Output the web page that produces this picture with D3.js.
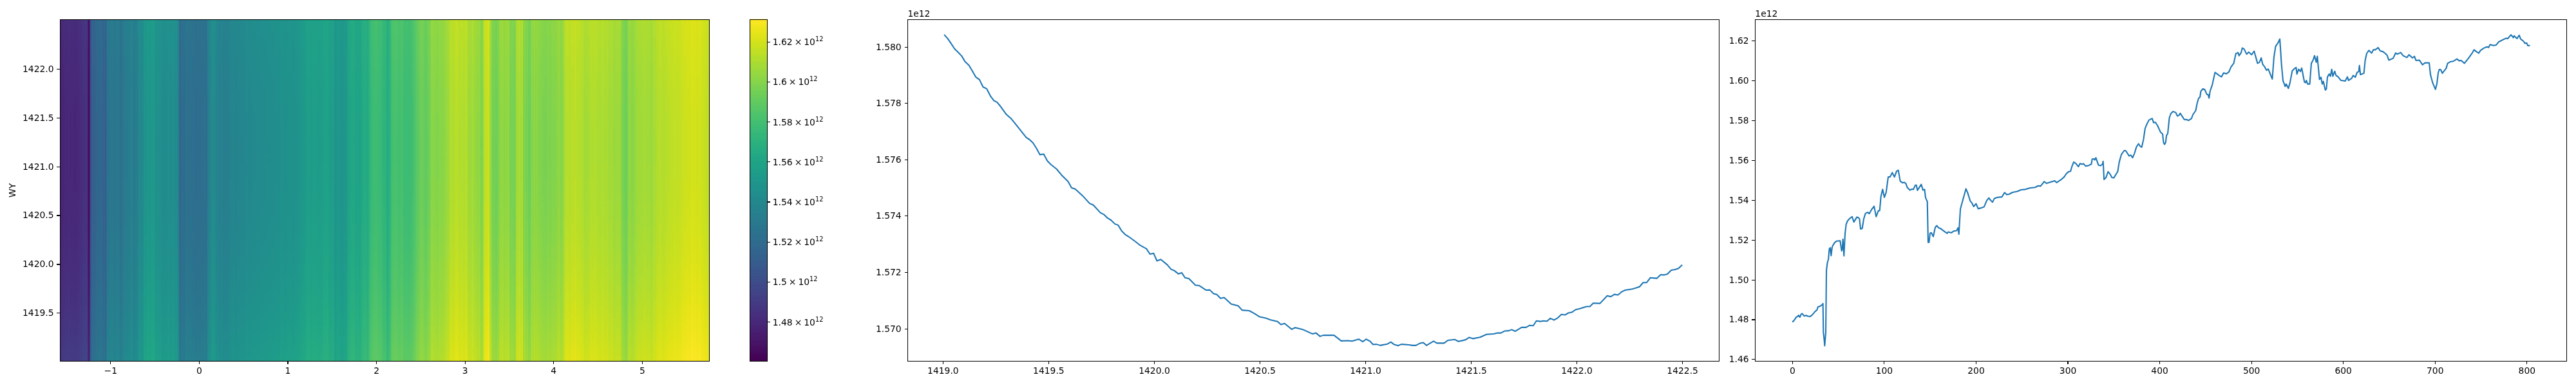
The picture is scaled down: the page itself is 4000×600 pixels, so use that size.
<!DOCTYPE html>
<html><head><meta charset="utf-8">
<style>html,body{margin:0;padding:0;background:#fff}#wrap{position:relative;width:4000px;height:600px}canvas,svg{position:absolute;left:0;top:0}
text{font-family:"DejaVu Sans";fill:#000}</style>
<script src="https://cdnjs.cloudflare.com/ajax/libs/d3/7.8.5/d3.min.js"></script></head>
<body><div id="wrap"></div>
<script>
// Row profile (mean over columns) in units of 1e12
const rowYears=[1419.007,1419.0245,1419.039,1419.056,1419.072,1419.09,1419.105,1419.124,1419.14,1419.157,1419.174,1419.191,1419.208,1419.226,1419.242,1419.257,1419.274,1419.301,1419.325,1419.351,1419.395,1419.41,1419.427,1419.444,1419.46,1419.478,1419.495,1419.512,1419.539,1419.562,1419.593,1419.61,1419.627,1419.661,1419.695,1419.713,1419.746,1419.764,1419.78,1419.796,1419.815,1419.83,1419.847,1419.863,1419.882,1419.913,1419.931,1419.964,1419.981,1419.998,1420.014,1420.032,1420.063,1420.081,1420.097,1420.115,1420.131,1420.147,1420.165,1420.196,1420.215,1420.247,1420.264,1420.281,1420.298,1420.315,1420.332,1420.365,1420.399,1420.417,1420.451,1420.478,1420.498,1420.529,1420.549,1420.584,1420.601,1420.618,1420.652,1420.668,1420.702,1420.75,1420.767,1420.786,1420.801,1420.852,1420.886,1420.92,1420.937,1420.969,1420.988,1421.004,1421.022,1421.037,1421.053,1421.071,1421.105,1421.121,1421.137,1421.155,1421.171,1421.206,1421.223,1421.24,1421.257,1421.274,1421.29,1421.323,1421.339,1421.373,1421.391,1421.423,1421.441,1421.475,1421.491,1421.509,1421.543,1421.574,1421.608,1421.625,1421.642,1421.659,1421.679,1421.693,1421.71,1421.74,1421.761,1421.777,1421.795,1421.81,1421.829,1421.842,1421.86,1421.876,1421.894,1421.91,1421.928,1421.945,1421.961,1421.979,1421.996,1422.013,1422.047,1422.063,1422.079,1422.111,1422.145,1422.162,1422.179,1422.196,1422.213,1422.23,1422.264,1422.298,1422.315,1422.332,1422.349,1422.38,1422.398,1422.414,1422.43,1422.448,1422.466,1422.482,1422.5];
const rowValues=[1.58043,1.58028,1.58012,1.57993,1.57981,1.57967,1.57948,1.57934,1.57914,1.57892,1.57883,1.57857,1.57851,1.57825,1.57809,1.57803,1.57788,1.5776,1.57744,1.5772,1.57678,1.57671,1.57659,1.57639,1.57617,1.57619,1.57595,1.57582,1.57566,1.57545,1.57522,1.57499,1.57495,1.57472,1.57444,1.57438,1.57411,1.57404,1.57392,1.57385,1.57371,1.57367,1.57346,1.57334,1.57325,1.57308,1.57297,1.57283,1.57264,1.57267,1.5724,1.57245,1.57226,1.5721,1.57205,1.57194,1.57198,1.5718,1.57177,1.57154,1.57152,1.57136,1.57137,1.57124,1.5712,1.57107,1.5711,1.57087,1.5708,1.57065,1.57063,1.57052,1.57042,1.57037,1.57031,1.57025,1.57014,1.57018,1.56997,1.57003,1.56997,1.56981,1.56984,1.56972,1.56976,1.56976,1.56956,1.56957,1.56955,1.56962,1.56953,1.56962,1.56955,1.56943,1.56944,1.5694,1.56945,1.56952,1.56943,1.56939,1.56944,1.56942,1.5694,1.5694,1.56947,1.5695,1.5694,1.56955,1.56948,1.56948,1.56958,1.56961,1.56954,1.5696,1.56968,1.56964,1.56969,1.56979,1.56981,1.56984,1.56984,1.56991,1.56992,1.56996,1.5699,1.57004,1.57004,1.57011,1.5701,1.57027,1.57025,1.57027,1.57026,1.57036,1.5703,1.57037,1.5705,1.57048,1.57055,1.57058,1.57067,1.5707,1.57078,1.57078,1.5709,1.57089,1.57116,1.57113,1.57121,1.57119,1.5713,1.57136,1.5714,1.57148,1.57163,1.57163,1.5718,1.57178,1.57191,1.5719,1.57193,1.57207,1.57209,1.57213,1.57226];
// Column profile (mean over rows) in units of 1e12
const colIndex=[0,1,3,4.5,6,7,8,8.5,9.7,11,13,15,17,20,22.5,25,27,28,31,33,33.5,34,35,35.4,36.6,37.3,38.4,39.4,40.5,41.5,42.4,43.6,46,48.2,52.2,53.9,54.6,55.3,56.4,57.6,58.8,60.4,62.3,65.3,67.2,70.5,72.1,73.3,74.5,76.3,78,79.8,82.2,84,86.4,89.2,91.5,93.9,95.3,96.7,98.5,100.4,102.3,104.6,106.7,109.1,111.4,113.8,115.6,117.7,120.1,122,123.8,125.4,128.3,130.1,132,134.1,135.3,136.4,140.6,142.5,144.2,145.3,147.2,148.1,149.1,150.2,151.6,153.7,155.8,157.5,159.4,161.7,165.2,168.7,169.9,173.4,175.7,179.2,180.6,181.6,183.2,185.1,187,189.3,191.2,194,195.6,197.7,200.3,202.6,206.1,209,212,214.3,216,218.3,220.2,223.7,228.4,231.4,233.7,236.5,240,244.7,249.4,254.1,258.8,264.6,268.1,270.5,274.6,277,286,288,292.7,296.2,298.5,300.9,303.2,304.8,306.7,309,311.8,313.7,315.6,317.2,319.6,323.1,325.9,326.8,328.9,329.6,330.8,333.6,335.9,338,338.7,339.7,341.8,344.1,346.5,348.3,350.4,353,354.6,356.3,358.6,361.7,363.3,367,368.9,370.8,372.9,375,377.3,379.2,380.8,382.7,384.4,386.2,388.6,392.1,393.7,395.6,397.9,401.4,403.5,404.5,405.6,406.8,407.7,409.1,410.8,412.4,414.8,417.8,419.7,421.3,422.7,427.2,429.5,431.8,434.9,436.5,439.6,441.2,442.8,444.2,445.2,447.5,449.4,451.7,453.1,454.1,455.2,457.6,460.6,463.4,465.3,467.6,470,472.8,475.8,477.9,481,483.3,484.5,485.6,486.8,489.1,490.3,492.2,495,497.3,500.4,503.2,506.9,509,510.9,512.5,514.4,516.7,518.6,523,524.7,526.6,528.9,531.2,533,534.6,537,538.1,540.5,542.3,544.7,547,548.9,549.8,551.7,553.6,555,558,559.2,560.1,561.5,563.8,565.5,567.4,569,570.9,572,574.4,576,577.4,578.6,580.7,581.9,583,584.9,586.3,587.7,588.9,591,592.4,594.7,597.5,602.4,604.8,606,609.5,611.1,613.4,615.3,617.2,617.9,619,622.8,624.2,625.8,628.2,631.2,633.1,635.2,638.2,640.6,643.4,646.2,648.1,649.9,654.6,657.4,659.3,662.8,665.6,669.6,671.9,675.6,677.8,679.6,683.1,686.6,689.7,693.9,695.3,697.6,700.7,702.3,703.7,704.9,706.5,708.2,712.4,714,717.1,720.6,724.1,726.4,728.7,732.3,736.9,740.4,742.8,745.1,747.9,749.8,753.3,756.8,758.5,760.3,763.8,766.9,769.7,774.4,777.9,779.5,783,785.6,786.5,789.6,791.9,793.5,796.6,798.2,800.1,801.3,803.6];
const colValues=[1.4789,1.4789,1.4801,1.4812,1.4815,1.4821,1.4812,1.4812,1.4826,1.4829,1.4817,1.482,1.4816,1.4815,1.4826,1.484,1.4847,1.4862,1.4868,1.4875,1.488,1.4735,1.4692,1.4668,1.4735,1.5047,1.5085,1.5101,1.5155,1.516,1.512,1.5165,1.5184,1.5193,1.5195,1.5144,1.5155,1.5203,1.5119,1.523,1.5278,1.5295,1.5305,1.5316,1.5289,1.5314,1.5311,1.5305,1.5254,1.5257,1.5305,1.5332,1.5338,1.5331,1.5351,1.5368,1.5316,1.5346,1.5346,1.5418,1.5453,1.5413,1.5437,1.5515,1.5516,1.5537,1.5515,1.5545,1.5549,1.5494,1.5486,1.5488,1.5483,1.5462,1.5449,1.5454,1.5453,1.5474,1.5474,1.5448,1.5478,1.5449,1.5453,1.5411,1.5392,1.5187,1.5187,1.5233,1.5235,1.5216,1.5262,1.5271,1.526,1.5256,1.5244,1.5232,1.5239,1.5235,1.5243,1.5246,1.526,1.5228,1.5354,1.5386,1.5418,1.5456,1.5435,1.5394,1.5386,1.5367,1.5381,1.5356,1.536,1.5365,1.5397,1.541,1.5399,1.5389,1.5407,1.5413,1.5415,1.5437,1.5427,1.5429,1.5438,1.5442,1.5451,1.5453,1.546,1.5463,1.5471,1.5469,1.5492,1.5483,1.5496,1.5487,1.5501,1.5515,1.5531,1.5541,1.5544,1.5569,1.559,1.5583,1.5567,1.5583,1.5579,1.5582,1.557,1.5573,1.558,1.5605,1.5606,1.5601,1.5612,1.5575,1.5572,1.5579,1.5594,1.5503,1.5512,1.5542,1.5528,1.5512,1.5511,1.5531,1.5542,1.5591,1.5628,1.5648,1.5647,1.5621,1.5625,1.5612,1.5634,1.5666,1.5682,1.5669,1.5665,1.5704,1.5758,1.5779,1.5801,1.5809,1.5788,1.579,1.5774,1.5739,1.5731,1.5688,1.5679,1.5688,1.5723,1.5733,1.5811,1.5833,1.5844,1.5839,1.5821,1.5825,1.5835,1.5803,1.5804,1.5799,1.5808,1.5828,1.5849,1.5887,1.5911,1.5916,1.5946,1.5958,1.5954,1.593,1.5928,1.5911,1.5946,1.5978,1.604,1.6031,1.6024,1.6018,1.6038,1.6033,1.6043,1.6067,1.6086,1.6135,1.6137,1.614,1.6124,1.614,1.6163,1.6158,1.6132,1.6142,1.6129,1.6147,1.6086,1.6091,1.6113,1.6081,1.607,1.6051,1.6057,1.6007,1.6113,1.6172,1.6186,1.6208,1.6081,1.6,1.597,1.5982,1.596,1.5989,1.6048,1.6059,1.6065,1.6032,1.6056,1.6045,1.6062,1.5992,1.5989,1.6,1.5982,1.5982,1.6086,1.6102,1.6124,1.6091,1.6121,1.6005,1.6016,1.5982,1.5995,1.5952,1.5957,1.6016,1.6032,1.6021,1.6056,1.6021,1.6046,1.6025,1.6018,1.6001,1.5997,1.6018,1.6,1.6011,1.6025,1.6016,1.604,1.6045,1.6075,1.6029,1.6036,1.6102,1.6135,1.6151,1.6137,1.6154,1.6154,1.6165,1.6148,1.6145,1.6135,1.6126,1.6102,1.6111,1.6138,1.6132,1.614,1.6124,1.6115,1.6129,1.6113,1.6121,1.61,1.6102,1.6079,1.6089,1.6088,1.6029,1.5989,1.5955,1.5984,1.6038,1.6055,1.6054,1.6036,1.6061,1.6086,1.6094,1.6097,1.6108,1.6099,1.61,1.6086,1.6113,1.6135,1.6154,1.6145,1.6137,1.6151,1.6162,1.6169,1.6165,1.618,1.6175,1.6178,1.6194,1.6205,1.6212,1.621,1.6229,1.6215,1.6224,1.621,1.6227,1.6208,1.6197,1.6186,1.6188,1.6175,1.6175];
const heatXTicks=[-1,0,1,2,3,4,5];
const heatYTicks=[1419.5,1420,1420.5,1421,1421.5,1422];
const colorTicks=[1.48,1.5,1.52,1.54,1.56,1.58,1.6,1.62];
const colorTickLabels=["1.48","1.5","1.52","1.54","1.56","1.58","1.6","1.62"];
const rowXTicks=[1419,1419.5,1420,1420.5,1421,1421.5,1422,1422.5];
const rowYTicks=[1.57,1.572,1.574,1.576,1.578,1.58];
const colXTicks=[0,100,200,300,400,500,600,700,800];
const colYTicks=[1.46,1.48,1.5,1.52,1.54,1.56,1.58,1.6,1.62];

const TOP=30.2,BOTTOM=561.4,FS=13.9,TICK=4.86,BLUE="#1f77b4";
const wrap=d3.select("#wrap");
const canvas=wrap.append("canvas").attr("width",4000).attr("height",600);
const svg=wrap.append("svg").attr("width",4000).attr("height",600);
const ctx=canvas.node().getContext("2d");

function axes(g,xs,ys,xt,yt,xf,yf,l,r){
  g.append("g").attr("transform",`translate(0,${BOTTOM})`).call(d3.axisBottom(xs).tickValues(xt).tickFormat(xf).tickSizeOuter(0).tickSize(TICK).tickPadding(4.86)).call(style);
  g.append("g").attr("transform",`translate(${l},0)`).call(d3.axisLeft(ys).tickValues(yt).tickFormat(yf).tickSizeOuter(0).tickSize(TICK).tickPadding(4.86)).call(style);
  g.append("rect").attr("x",l).attr("y",TOP).attr("width",r-l).attr("height",BOTTOM-TOP).attr("fill","none").attr("stroke","#000").attr("stroke-width",1.1).attr("shape-rendering","crispEdges");
}
function style(s){
  s.select(".domain").remove();
  s.selectAll("line").attr("stroke","#000").attr("stroke-width",1.1).attr("shape-rendering","crispEdges");
  s.selectAll("text").attr("font-family","DejaVu Sans").attr("font-size",FS).attr("fill","#000");
}
const minus=d=>String(d).replace("-","\u2212");

// ---- heatmap
const hx=d3.scaleLinear().domain([-1.567,5.759]).range([93.3,1101.3]);
const hy=d3.scaleLinear().domain([1419.006,1422.504]).range([BOTTOM,TOP]);
const idxToX=d3.scaleLinear().domain([0,804]).range([-1.567,5.759]);
const color=d3.scaleSequential(d3.interpolateViridis).domain([1.4605,1.6312]);
const rowMean=d3.mean(rowValues);
const colEdges=[0,...colIndex.slice(1).map((d,i)=>(d+colIndex[i])/2),804];
const rowEdges=[1419.006,...rowYears.slice(1).map((d,i)=>(d+rowYears[i])/2),1422.504];
rowValues.forEach((rv,r)=>{
  const y0=Math.round(hy(rowEdges[r+1])),y1=Math.round(hy(rowEdges[r]));
  if(y1<=y0) return;
  colValues.forEach((cv,c)=>{
    const x0=hx(idxToX(colEdges[c])),x1=hx(idxToX(colEdges[c+1]));
    ctx.fillStyle=color(cv+rv-rowMean);
    ctx.fillRect(Math.round(x0),y0,Math.max(1,Math.round(x1)-Math.round(x0)),y1-y0);
  });
});
const g1=svg.append("g");
axes(g1,hx,hy,heatXTicks,heatYTicks,minus,d=>d.toFixed(1),93.3,1101.3);
g1.append("text").attr("transform",`translate(24,296) rotate(-90)`).attr("text-anchor","middle").attr("font-size",FS).text("WY");

// ---- colour bar
const cbY=d3.scaleLinear().domain(color.domain()).range([BOTTOM,TOP]);
const cbSteps=d3.range(256).map(i=>color.domain()[0]+(color.domain()[1]-color.domain()[0])*i/256);
const cb=svg.append("g");
cb.selectAll("rect.s").data(cbSteps).join("rect").attr("class","s").attr("x",1164.3).attr("width",27.2)
  .attr("y",d=>cbY(d)-(BOTTOM-TOP)/256-0.5).attr("height",(BOTTOM-TOP)/256+1).attr("fill",d=>color(d));
cb.append("rect").attr("x",1164.3).attr("y",TOP).attr("width",27.2).attr("height",BOTTOM-TOP).attr("fill","none").attr("stroke","#000").attr("stroke-width",1.1).attr("shape-rendering","crispEdges");
const cbt=cb.selectAll("g.t").data(colorTicks).join("g").attr("class","t").attr("transform",d=>`translate(1191.5,${cbY(d)})`);
cbt.append("line").attr("x2",TICK).attr("stroke","#000").attr("stroke-width",1.1).attr("shape-rendering","crispEdges");
const lab=cbt.append("text").attr("x",8.2).attr("y",5).attr("font-size",FS);
lab.append("tspan").text((d,i)=>colorTickLabels[i]);
lab.append("tspan").attr("dx",3).text("\u00d7");
lab.append("tspan").attr("dx",3).text("10");
lab.append("tspan").attr("dy",-6).attr("font-size",FS*0.7).text("12");

// ---- row mean line
const rx=d3.scaleLinear().domain([1418.834,1422.675]).range([1409.4,2669.5]);
const ry=d3.scaleLinear().domain([1.56884,1.58097]).range([BOTTOM,TOP]);
const g2=svg.append("g");
axes(g2,rx,ry,rowXTicks,rowYTicks,d=>d.toFixed(1),d=>d.toFixed(3),1409.4,2669.5);
g2.append("path").datum(rowYears).attr("fill","none").attr("stroke",BLUE).attr("stroke-width",2.08).attr("stroke-linejoin","round")
  .attr("d",d3.line().x(d=>rx(d)).y((d,i)=>ry(rowValues[i])));
g2.append("text").attr("x",1409.4).attr("y",26).attr("font-size",FS).text("1e12");

// ---- column mean line
const cx=d3.scaleLinear().domain([-40.4,843.5]).range([2725.3,3985.3]);
const cy=d3.scaleLinear().domain([1.45903,1.63063]).range([BOTTOM,TOP]);
const g3=svg.append("g");
axes(g3,cx,cy,colXTicks,colYTicks,d=>d,d=>d.toFixed(2),2725.3,3985.3);
g3.append("path").datum(colIndex).attr("fill","none").attr("stroke",BLUE).attr("stroke-width",2.08).attr("stroke-linejoin","round")
  .attr("d",d3.line().x(d=>cx(d)).y((d,i)=>cy(colValues[i])));
g3.append("text").attr("x",2725.3).attr("y",26).attr("font-size",FS).text("1e12");
</script></body></html>
